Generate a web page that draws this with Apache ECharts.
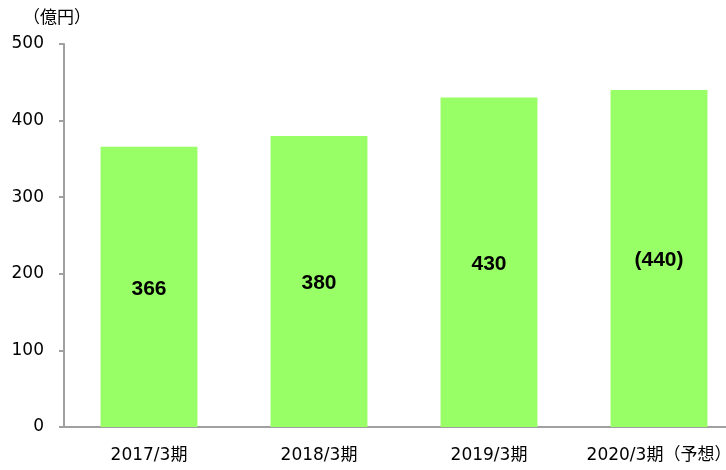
<!DOCTYPE html>
<html>
<head>
<meta charset="utf-8">
<script src="https://cdn.jsdelivr.net/npm/echarts@6/dist/echarts.min.js"></script>
<style>
  html, body { margin: 0; padding: 0; background: #fff; }
  #chart { width: 726px; height: 470px; }
</style>
</head>
<body>
<div id="chart"></div>
<script>
const categories = ['2017/3期', '2018/3期', '2019/3期', '2020/3期（予想）'];
const sales = [366, 380, 430, 440];
const barLabels = ['366', '380', '430', '(440)'];

const chart = echarts.init(document.getElementById('chart'));

chart.setOption({
  animation: false,
  title: {
    text: '（億円）',
    left: 18,
    top: 3,
    textStyle: { fontSize: 17, fontWeight: 'normal', color: '#000', fontFamily: 'Noto Sans CJK JP' }
  },
  grid: { left: 64, width: 680, top: 44, bottom: 43, outerBoundsMode: 'none', containLabel: false },
  xAxis: {
    type: 'category',
    data: categories,
    axisLine: { lineStyle: { color: '#a0a0a0', width: 2 } },
    axisTick: { show: false },
    axisLabel: { interval: 0, color: '#000', fontSize: 17, margin: 20, fontFamily: 'DejaVu Sans, Noto Sans CJK JP' }
  },
  yAxis: {
    type: 'value',
    min: 0,
    max: 500,
    interval: 100,
    splitLine: { show: false },
    axisLine: { show: true, lineStyle: { color: '#a0a0a0', width: 2 } },
    axisTick: { show: true, length: 5, lineStyle: { color: '#a0a0a0', width: 2 } },
    axisLabel: { color: '#000', fontSize: 17, margin: 20, fontFamily: 'DejaVu Sans' }
  },
  series: [{
    type: 'bar',
    data: sales,
    barWidth: '57%',
    itemStyle: { color: '#99ff66' },
    label: {
      show: true,
      position: 'inside',
      offset: [0, 2],
      color: '#000',
      fontSize: 21,
      fontWeight: 'bold',
      fontFamily: 'Liberation Sans',
      formatter: p => barLabels[p.dataIndex]
    }
  }]
});
</script>
</body>
</html>
